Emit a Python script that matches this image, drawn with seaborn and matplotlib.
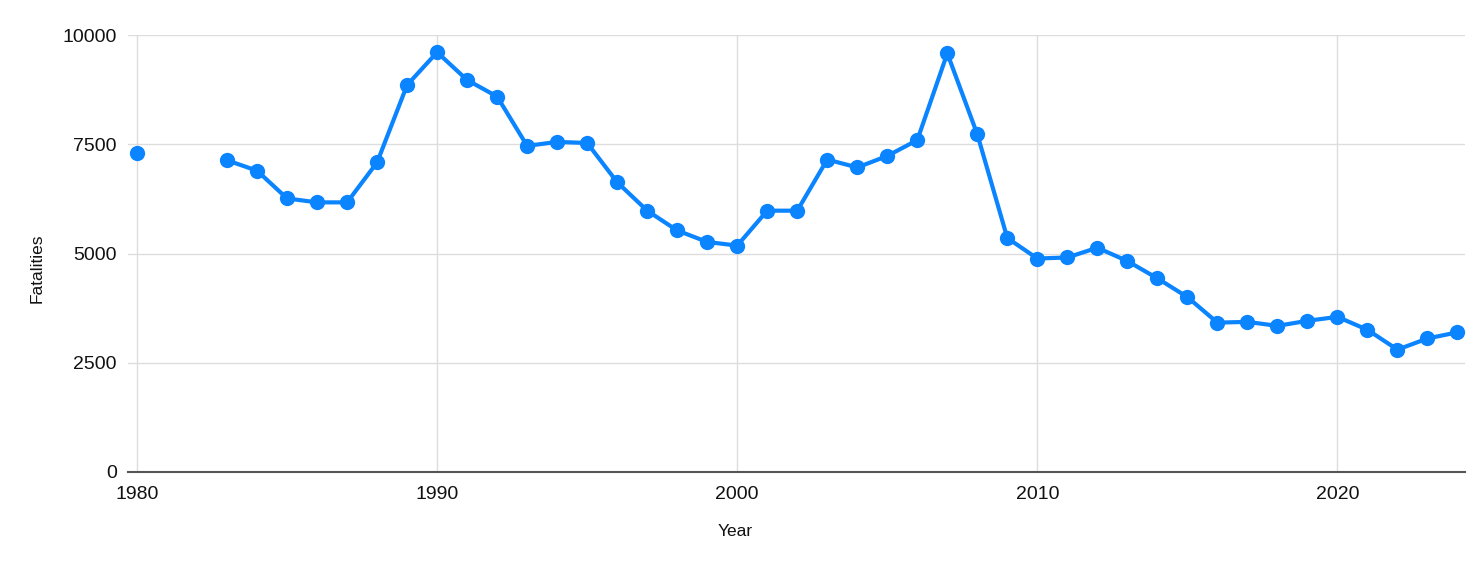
import matplotlib.pyplot as plt
import numpy as np
import pandas as pd
import seaborn as sns

years = list(range(1980, 2025))
fatalities = [
    7290, np.nan, np.nan, 7133, 6895, 6260, 6170, 6170, 7084, 8855,
    9605, 8970, 8591, 7463, 7554, 7529, 6631, 5980, 5527, 5264,
    5181, 5980, 5980, 7150, 6969, 7232, 7595, 9580, 7727, 5354,
    4885, 4909, 5132, 4827, 4432, 4003, 3418, 3435, 3344, 3460,
    3550, 3254, 2800, 3056, 3196,
]
x_ticks = [1980, 1990, 2000, 2010, 2020]
y_ticks = [0, 2500, 5000, 7500, 10000]

df = pd.DataFrame({"Year": years, "Fatalities": fatalities})
# break the line where years are missing
df["segment"] = df["Fatalities"].isna().cumsum()
df = df.dropna()

sns.set_style("white")
plt.rcParams["font.family"] = ["Liberation Sans", "DejaVu Sans"]

fig = plt.figure(figsize=(14.81, 5.64), dpi=100)
ax = fig.add_axes([128 / 1481, 1 - 472 / 564, (1465 - 128) / 1481, (472 - 35) / 564])

blue = "#0A84FF"
sns.lineplot(data=df, x="Year", y="Fatalities", units="segment", estimator=None,
             color=blue, linewidth=3, marker="o", markersize=11,
             markeredgewidth=0, ax=ax, zorder=3)

ax.set_xlim(1979.7, 2024.25)
ax.set_ylim(0, 10000)
ax.set_xticks(x_ticks)
ax.set_yticks(y_ticks)
ax.grid(True, color="#dddddd", linewidth=1)
ax.set_axisbelow(True)
for s in ["left", "right", "top"]:
    ax.spines[s].set_visible(False)
ax.spines["bottom"].set_color("#555555")
ax.spines["bottom"].set_linewidth(1.5)
ax.spines["bottom"].set_zorder(2)
ax.tick_params(axis="both", length=0, labelsize=14, colors="#111111")
ax.tick_params(axis="x", pad=10)
ax.tick_params(axis="y", pad=8)

ax.set_xlabel("Year", fontsize=12.5, color="#111111")
ax.set_ylabel("Fatalities", fontsize=12.5, color="#111111")
ax.xaxis.set_label_coords(0.454, -0.118)
ax.yaxis.set_label_coords(-0.062, 0.467)

fig.savefig("out.png", dpi=100)
